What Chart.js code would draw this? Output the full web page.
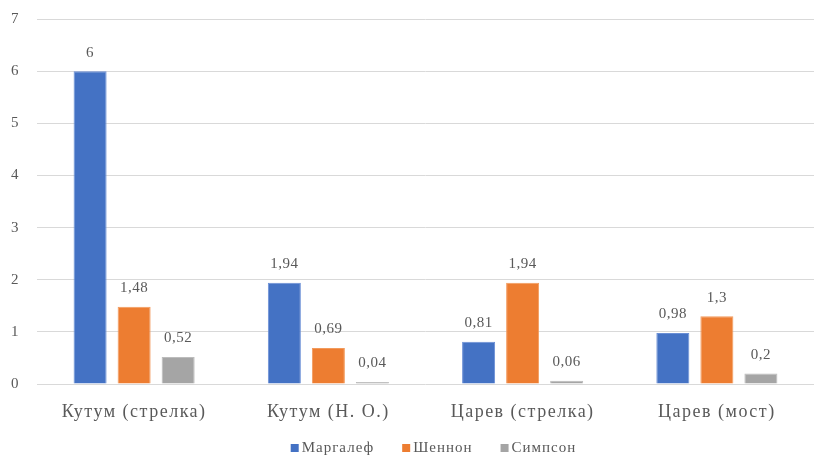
<!DOCTYPE html>
<html>
<head>
<meta charset="utf-8">
<script src="https://cdn.jsdelivr.net/npm/chart.js@4"></script>
<style>
  html, body { margin: 0; padding: 0; background: #fff; }
  #wrap { width: 814px; height: 461px; }
</style>
</head>
<body>
<div id="wrap"><canvas id="c" width="814" height="461"></canvas></div>
<script>
const categories = ['Кутум (стрелка)', 'Кутум (Н. О.)', 'Царев (стрелка)', 'Царев (мост)'];
const margalef = [6, 1.94, 0.81, 0.98];
const shannon = [1.48, 0.69, 1.94, 1.3];
const simpson = [0.52, 0.04, 0.06, 0.2];
const seriesNames = ['Маргалеф', 'Шеннон', 'Симпсон'];
const seriesColors = ['#4472C4', '#ED7D31', '#A5A5A5'];
const yTicks = [0, 1, 2, 3, 4, 5, 6, 7];

const FONT = '"Liberation Serif", "Times New Roman", serif';
const TEXT = '#595959';

// wider tracking for the axis text, as in the original typesetting
const axisTracking = {
  id: 'axisTracking',
  beforeDraw(chart) { chart.ctx.letterSpacing = '1.5px'; },
  beforeDatasetsDraw(chart) { chart.ctx.letterSpacing = '0px'; }
};

// value labels above each bar, decimal comma
const valueLabels = {
  id: 'valueLabels',
  afterDatasetsDraw(chart) {
    const ctx = chart.ctx;
    ctx.save();
    ctx.letterSpacing = '0.5px';
    ctx.font = '15px ' + FONT;
    ctx.fillStyle = TEXT;
    ctx.textAlign = 'center';
    ctx.textBaseline = 'bottom';
    chart.data.datasets.forEach((ds, i) => {
      chart.getDatasetMeta(i).data.forEach((bar, j) => {
        const txt = String(ds.data[j]).replace('.', ',');
        ctx.fillText(txt, bar.x, bar.y - 11);
      });
    });
    ctx.restore();
  }
};

// legend row under the axis labels
const bottomLegend = {
  id: 'bottomLegend',
  afterDraw(chart) {
    const ctx = chart.ctx;
    ctx.save();
    ctx.letterSpacing = '1px';
    ctx.font = '15px ' + FONT;
    ctx.textBaseline = 'middle';
    ctx.textAlign = 'left';
    const box = 8, gapBox = 3, gapItem = 28;
    const widths = seriesNames.map(n => ctx.measureText(n).width);
    const total = widths.reduce((a, w) => a + box + gapBox + w, 0) + gapItem * (seriesNames.length - 1);
    const cx = (chart.chartArea.left + chart.chartArea.right) / 2 + 8;
    let x = cx - total / 2;
    const y = 448;
    seriesNames.forEach((n, i) => {
      ctx.fillStyle = seriesColors[i];
      ctx.fillRect(x, y - box / 2, box, box);
      x += box + gapBox;
      ctx.fillStyle = TEXT;
      ctx.fillText(n, x, y);
      x += widths[i] + gapItem;
    });
    ctx.restore();
  }
};

new Chart(document.getElementById('c'), {
  type: 'bar',
  data: {
    labels: categories,
    datasets: [
      { label: seriesNames[0], data: margalef, backgroundColor: seriesColors[0], borderColor: '#6a8fd6', borderWidth: 1 },
      { label: seriesNames[1], data: shannon, backgroundColor: seriesColors[1], borderColor: '#f29a5c', borderWidth: 1 },
      { label: seriesNames[2], data: simpson, backgroundColor: seriesColors[2], borderColor: '#bcbcbc', borderWidth: 1 }
    ]
  },
  options: {
    responsive: false,
    animation: false,
    devicePixelRatio: 1,
    layout: { padding: { top: 19, right: 0, left: 0, bottom: 26 } },
    datasets: { bar: { categoryPercentage: 0.68, barPercentage: 0.75 } },
    plugins: {
      legend: { display: false },
      tooltip: { enabled: false }
    },
    scales: {
      x: {
        grid: { display: false },
        border: { display: false },
        afterFit(axis) { axis.height = 51; axis.paddingLeft = 0; axis.paddingRight = 0; },
        ticks: { font: { family: FONT, size: 18 }, color: TEXT, padding: 9 }
      },
      y: {
        min: 0,
        max: 7,
        afterBuildTicks(axis) { axis.ticks = yTicks.map(v => ({ value: v })); },
        afterFit(axis) { axis.width = 37; axis.paddingTop = 0; axis.paddingBottom = 0; },
        grid: { color: '#d9d9d9', lineWidth: 1, drawTicks: false },
        border: { display: false },
        ticks: { font: { family: FONT, size: 15 }, color: TEXT, padding: 17 }
      }
    }
  },
  plugins: [axisTracking, valueLabels, bottomLegend]
});
</script>
</body>
</html>
